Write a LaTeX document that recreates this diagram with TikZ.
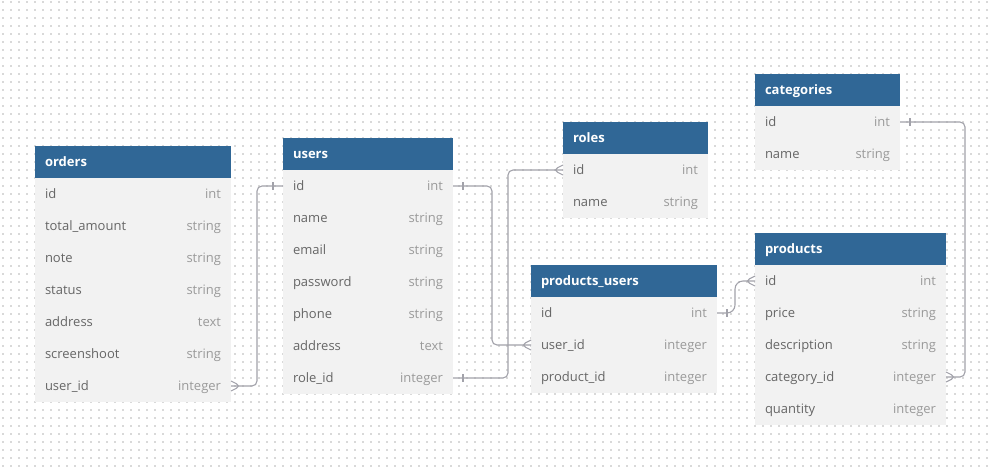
\documentclass[tikz,border=0pt]{standalone}
\usepackage{fontspec}
\setmainfont{Open Sans}
\usetikzlibrary{positioning}

\definecolor{headblue}{HTML}{306796}
\definecolor{rowgray}{HTML}{F2F2F2}
\definecolor{namegray}{HTML}{666666}
\definecolor{typegray}{HTML}{9A9A9A}
\definecolor{relgray}{HTML}{A2A2AA}
\definecolor{dotgray}{HTML}{D9D9D9}

\begin{document}
\begin{tikzpicture}[x=1pt, y=-1pt,
  head/.style={rectangle, fill=headblue, text=white, anchor=north west,
    font=\fontsize{13}{15}\selectfont\bfseries, inner xsep=10pt, inner ysep=0pt,
    minimum height=32pt, text height=10pt, text depth=2pt, outer sep=0pt},
  field/.style={rectangle, fill=rowgray, text=namegray,
    font=\fontsize{13}{15}\selectfont, inner xsep=10pt, inner ysep=0pt,
    minimum height=32pt, text height=10pt, text depth=2pt, outer sep=0pt},
  rel/.style={draw=relgray, line width=1.1pt, rounded corners=5pt},
  crow/.pic={\draw[rel] (0,-5) -- (10,0) -- (0,5);},
  bar/.pic={\draw[rel] (10,-4) -- (10,4);}]

  \useasboundingbox (0,0) rectangle (992,466);
  \fill[white] (0,0) rectangle (992,466);
  \foreach \y in {2,10,...,466}
    \draw[dotgray, line width=2pt, dash pattern=on 2pt off 6pt] (2,\y) -- (992,\y);

  % orders
  \node[head, text width=176pt] (orders-head) at (35,146) {orders};
  \foreach \k/\f/\t [remember=\k as \p (initially head)] in {id/id/int,
      amount/total\_amount/string, note/note/string, status/status/string,
      address/address/text, shot/screenshoot/string, userid/user\_id/integer}
    \node[field, text width=176pt, below=0pt of orders-\p] (orders-\k)
      {\f\hfill\textcolor{typegray}{\t}};

  % users
  \node[head, text width=150pt] (users-head) at (283,138) {users};
  \foreach \k/\f/\t [remember=\k as \p (initially head)] in {id/id/int,
      name/name/string, email/email/string, password/password/string,
      phone/phone/string, address/address/text, roleid/role\_id/integer}
    \node[field, text width=150pt, below=0pt of users-\p] (users-\k)
      {\f\hfill\textcolor{typegray}{\t}};

  % roles
  \node[head, text width=125pt] (roles-head) at (563,122) {roles};
  \foreach \k/\f/\t [remember=\k as \p (initially head)] in {id/id/int,
      name/name/string}
    \node[field, text width=125pt, below=0pt of roles-\p] (roles-\k)
      {\f\hfill\textcolor{typegray}{\t}};

  % products_users
  \node[head, text width=166pt] (pu-head) at (531,265) {products\_users};
  \foreach \k/\f/\t [remember=\k as \p (initially head)] in {id/id/int,
      userid/user\_id/integer, productid/product\_id/integer}
    \node[field, text width=166pt, below=0pt of pu-\p] (pu-\k)
      {\f\hfill\textcolor{typegray}{\t}};

  % categories
  \node[head, text width=125pt] (categories-head) at (755,74) {categories};
  \foreach \k/\f/\t [remember=\k as \p (initially head)] in {id/id/int,
      name/name/string}
    \node[field, text width=125pt, below=0pt of categories-\p] (categories-\k)
      {\f\hfill\textcolor{typegray}{\t}};

  % products
  \node[head, text width=171pt] (products-head) at (755,233) {products};
  \foreach \k/\f/\t [remember=\k as \p (initially head)] in {id/id/int,
      price/price/string, description/description/string,
      catid/category\_id/integer, quantity/quantity/integer}
    \node[field, text width=171pt, below=0pt of products-\p] (products-\k)
      {\f\hfill\textcolor{typegray}{\t}};

  % relations
  \draw[rel] (orders-userid.east) -- ++(26,0) |- (users-id.west);
  \draw[rel] (users-id.east) -- ++(39,0) |- (pu-userid.west);
  \draw[rel] (users-roleid.east) -- ++(55,0) |- (roles-id.west);
  \draw[rel, rounded corners=8pt] (pu-id.east) -- ++(18,0) |- (products-id.west);
  \draw[rel] (categories-id.east) -- ++(65,0) |- (products-catid.east);

  \pic at (orders-userid.east) {crow};
  \pic[xscale=-1] at (pu-userid.west) {crow};
  \pic[xscale=-1] at (roles-id.west) {crow};
  \pic[xscale=-1] at (products-id.west) {crow};
  \pic at (products-catid.east) {crow};

  \pic[xscale=-1] at (users-id.west) {bar};
  \pic at (users-id.east) {bar};
  \pic at (users-roleid.east) {bar};
  \pic at (pu-id.east) {bar};
  \pic at (categories-id.east) {bar};
\end{tikzpicture}
\end{document}
